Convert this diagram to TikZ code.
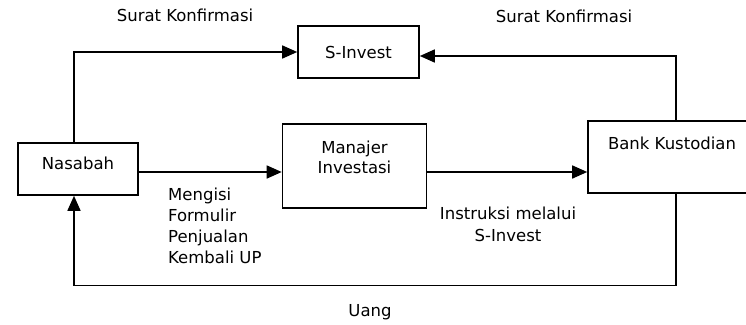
\documentclass[tikz,border=0pt]{standalone}
\usepackage{fontspec}
\setmainfont{DejaVu Sans}
\usetikzlibrary{arrows.meta}
\usetikzlibrary{calc}

\tikzset{
  box/.style={draw, line width=1.6pt, inner sep=0pt},
  flow/.style={line width=1.6pt, -{Triangle[length=15pt,width=13pt]}},
  txt/.style={inner sep=0pt, font=\fontsize{16.5}{21}\selectfont},
}

\begin{document}
\begin{tikzpicture}[x=1pt,y=-1pt]
\useasboundingbox (0,0) rectangle (746,324);
% the boxes
\node[box, minimum width=120, minimum height=52] (nasabah) at (78,169) {};
\node[box, minimum width=121, minimum height=52] (sinvest) at (358.5,52) {};
\node[box, minimum width=144, minimum height=84] (manajer) at (354.5,166) {};
\node[box, minimum width=168, minimum height=71.5] (bank) at (672,157) {};
% texts in the boxes
\node[txt, anchor=base] (nasabah-t) at (78,169) {Nasabah};
\node[txt, anchor=base] (sinvest-t) at (358.5,58) {S-Invest};
\node[txt, anchor=north, align=center, font=\fontsize{16.5}{20}\selectfont] (manajer-t) at (354.5,141) {Manajer\\Investasi};
\node[txt, anchor=base] (bank-t) at (672,149) {Bank Kustodian};
% the arrows
\draw[flow] ([xshift=-4]nasabah.north) |- (sinvest.west);
\draw[flow] ([xshift=4]bank.north) |- ([yshift=-4]sinvest.east);
\draw[flow] ([yshift=-3]nasabah.east) coordinate (nout) -- (manajer.west |- nout);
\draw[flow] (manajer.east |- nout) -- (bank.west |- nout);
\draw[flow] ([xshift=4]bank.south) -- ++(0,92) -| ([xshift=-4]nasabah.south);
% labels
\node[txt, anchor=base] (konf-l) at (185,21) {Surat Konfirmasi};
\node[txt, anchor=base] (konf-r) at (564,22) {Surat Konfirmasi};
\node[txt, anchor=north west, align=left] (mengisi) at (168,187.5) {Mengisi\\Formulir\\Penjualan\\Kembali UP};
\node[txt, anchor=north, align=center, font=\fontsize{16.5}{22}\selectfont] (instruksi) at (508,207) {Instruksi melalui\\S-Invest};
\node[txt, anchor=base] (uang) at (370,316) {Uang};
\end{tikzpicture}
\end{document}
